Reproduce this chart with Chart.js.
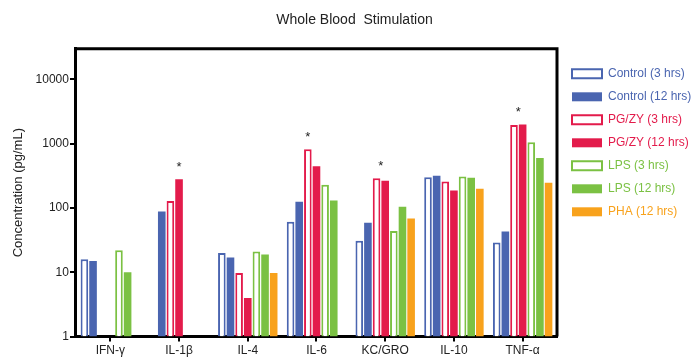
<!DOCTYPE html>
<html>
<head>
<meta charset="utf-8">
<script src="https://cdn.jsdelivr.net/npm/chart.js@4"></script>
<style>
  body { margin: 0; background: #fff; }
  #wrap { width: 698px; height: 360px; }
</style>
</head>
<body>
<div id="wrap"><canvas id="bloodChart"></canvas></div>
<script>
// Cytokine concentrations (pg/mL)
const categories = ['IFN-\u03b3', 'IL-1\u03b2', 'IL-4', 'IL-6', 'KC/GRO', 'IL-10', 'TNF-\u03b1'];
const control3h = [16, null, 20, 61, 31, 302, 29];
const control12h = [15, 88, 17, 125, 59, 318, 43];
const pgzy3h = [null, 129, 9.8, 820, 290, 258, 1950];
const pgzy12h = [null, 280, 4.0, 445, 265, 187, 2000];
const lps3h = [22, null, 21, 230, 44, 309, 1060];
const lps12h = [10, null, 19, 131, 105, 295, 600];
const pha12h = [null, null, 9.8, null, 69, 199, 248];
const yTicks = [1, 10, 100, 1000, 10000];
// significance marks: category index + the series they sit over
const stars = [
    { cat: 1, over: [3] },
    { cat: 3, over: [2] },
    { cat: 4, over: [2, 3] },
    { cat: 6, over: [2, 3] }
];

const BLUE = '#4a65b0', RED = '#e31b4b', GREEN = '#7bc143', ORANGE = '#f8a21c';
const FONT = "'Liberation Sans', Arial, sans-serif";
const LEGEND_WIDTH = 141;

function hollow(label, data, color) {
    return { label, data, backgroundColor: '#fff', borderColor: color, borderWidth: 2, borderSkipped: 'bottom' };
}
function solid(label, data, color) {
    return { label, data, backgroundColor: color, borderColor: color, borderWidth: 0 };
}

// keep the legend column a fixed width so the plot ends where the figure's does
const legendSize = {
    id: 'legendSize',
    beforeLayout(chart) {
        const lg = chart.legend;
        if (!lg || lg._fixed) return;
        const fit = lg.fit;
        lg.fit = function () {
            fit.call(this);
            this.width = LEGEND_WIDTH;
        };
        lg._fixed = true;
    },
    afterLayout(chart) {
        chart.legend.left += 4;
    }
};

const framePlugin = {
    id: 'frame',
    afterDraw(chart) {
        const { ctx, chartArea: a } = chart;
        ctx.save();
        ctx.strokeStyle = '#000';
        ctx.lineWidth = 3;
        ctx.beginPath();
        ctx.moveTo(a.left, a.top);
        ctx.lineTo(a.right, a.top);
        ctx.lineTo(a.right, a.bottom);
        ctx.stroke();
        ctx.restore();
    }
};

const starPlugin = {
    id: 'stars',
    afterDatasetsDraw(chart) {
        const ctx = chart.ctx;
        ctx.save();
        ctx.fillStyle = '#222';
        ctx.font = '13px ' + FONT;
        ctx.textAlign = 'center';
        stars.forEach(s => {
            const els = s.over.map(i => chart.getDatasetMeta(i).data[s.cat]);
            const x = els.reduce((t, e) => t + e.x, 0) / els.length;
            const y = Math.min(...els.map(e => e.y));
            ctx.fillText('*', x, y - 8);
        });
        ctx.restore();
    }
};

const ctx = document.getElementById('bloodChart').getContext('2d');
const bloodChart = new Chart(ctx, {
    type: 'bar',
    data: {
        labels: categories,
        datasets: [
            hollow('Control (3 hrs)', control3h, BLUE),
            solid('Control (12 hrs)', control12h, BLUE),
            hollow('PG/ZY (3 hrs)', pgzy3h, RED),
            solid('PG/ZY (12 hrs)', pgzy12h, RED),
            hollow('LPS (3 hrs)', lps3h, GREEN),
            solid('LPS (12 hrs)', lps12h, GREEN),
            solid('PHA (12 hrs)', pha12h, ORANGE)
        ]
    },
    options: {
        responsive: true,
        maintainAspectRatio: false,
        animation: false,
        layout: { padding: { left: 11, right: 0, top: 0, bottom: 0 } },
        datasets: { bar: { categoryPercentage: 0.88, barPercentage: 0.88 } },
        plugins: {
            title: {
                display: true,
                text: 'Whole Blood  Stimulation',
                color: '#222',
                font: { family: FONT, size: 14, weight: 'normal' },
                padding: { top: 12, bottom: 20 }
            },
            legend: {
                position: 'right',
                align: 'start',
                title: { display: true, text: ' ', font: { size: 4 }, padding: { top: 46, bottom: 6 } },
                labels: {
                    boxWidth: 30,
                    boxHeight: 9,
                    padding: 11,
                    font: { family: FONT, size: 12 },
                    generateLabels(chart) {
                        return chart.data.datasets.map((ds, i) => ({
                            text: ds.label,
                            fillStyle: ds.backgroundColor,
                            strokeStyle: ds.borderColor,
                            lineWidth: ds.borderWidth,
                            fontColor: ds.borderColor,
                            datasetIndex: i,
                            hidden: false
                        }));
                    }
                }
            },
            tooltip: { enabled: false }
        },
        scales: {
            x: {
                grid: { offset: false, drawOnChartArea: false, drawTicks: true, tickLength: 5, color: '#000', lineWidth: 2 },
                border: { display: true, color: '#000', width: 3 },
                ticks: { color: '#222', font: { family: FONT, size: 12 }, padding: 2, maxRotation: 0 }
            },
            y: {
                type: 'logarithmic',
                min: 1,
                max: 30000,
                afterBuildTicks(scale) {
                    scale.ticks = yTicks.map(v => ({ value: v }));
                },
                grid: { drawOnChartArea: false, drawTicks: true, tickLength: 6, color: '#000', lineWidth: 2 },
                border: { display: true, color: '#000', width: 3 },
                ticks: {
                    color: '#222',
                    font: { family: FONT, size: 12 },
                    padding: 1,
                    callback: v => String(v)
                },
                title: {
                    display: true,
                    text: 'Concentration (pg/mL)',
                    color: '#222',
                    font: { family: FONT, size: 13 },
                    padding: { top: 0, bottom: 8 }
                }
            }
        }
    },
    plugins: [legendSize, framePlugin, starPlugin]
});
</script>
</body>
</html>
